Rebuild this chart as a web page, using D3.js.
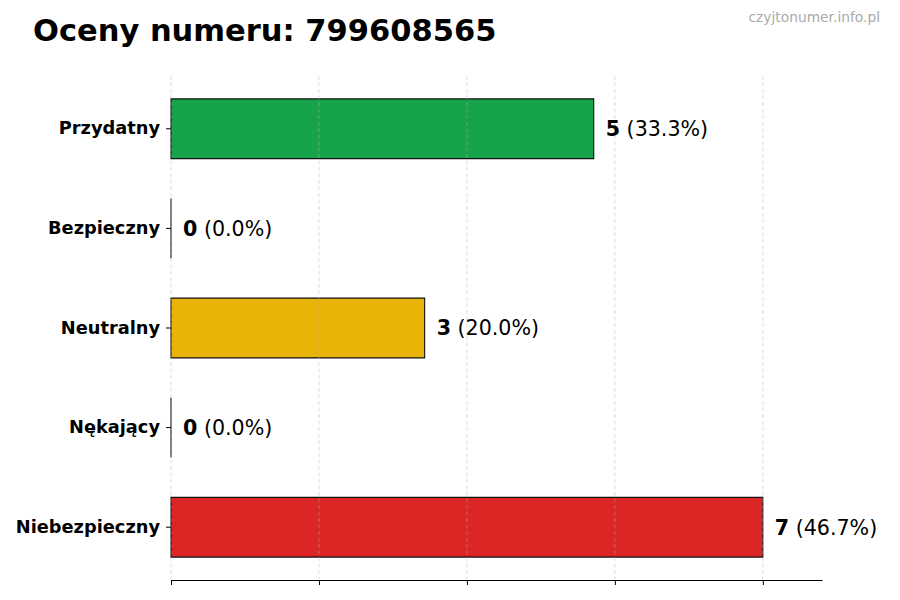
<!DOCTYPE html>
<html lang="pl">
<head>
<meta charset="UTF-8">
<title>Oceny numeru</title>
<style>
  body { margin: 0; background: #fff; }
  svg { display: block; font-family: "DejaVu Sans", sans-serif; }
</style>
<script src="https://cdn.jsdelivr.net/npm/d3@7/dist/d3.min.js"></script>
</head>
<body>
<script>
// dane z wykresu
var categories = ['Przydatny', 'Bezpieczny', 'Neutralny', 'Nękający', 'Niebezpieczny'];
var counts = [5, 0, 3, 0, 7];
var percents = ['33.3%', '0.0%', '20.0%', '0.0%', '46.7%'];
var colors = ['#16a34a', '#9ca3af', '#eab308', '#f97316', '#dc2626'];
var xTicks = [0, 1.75, 3.5, 5.25, 7];
var xMax = 7.7;

var width = 900, height = 600;
var margin = {top: 76, right: 78, bottom: 20, left: 171};

var svg = d3.select('body').append('svg')
  .attr('width', width)
  .attr('height', height);

var x = d3.scaleLinear()
  .domain([0, xMax])
  .range([margin.left, width - margin.right]);

var y = d3.scaleBand()
  .domain(categories)
  .range([margin.top, height - margin.bottom])
  .paddingInner(0.4)
  .paddingOuter(0.23);

// tytul
svg.append('text')
  .attr('x', 33).attr('y', 41)
  .attr('font-size', '30.5px')
  .attr('font-weight', 'bold')
  .attr('fill', '#000')
  .text('Oceny numeru: 799608565');

// znak wodny
svg.append('text')
  .attr('x', 880).attr('y', 22)
  .attr('text-anchor', 'end')
  .attr('font-size', '13.8px')
  .attr('fill', '#aaaaaa')
  .text('czyjtonumer.info.pl');

// slupki (path, zeby zerowe tez mialy krawedz)
svg.append('g').selectAll('path')
  .data(counts)
  .enter().append('path')
  .attr('d', function(d, i) {
    var y0 = y(categories[i]), y1 = y0 + y.bandwidth();
    return 'M' + x(0) + ',' + y0 + 'H' + x(d) + 'V' + y1 + 'H' + x(0) + 'Z';
  })
  .attr('fill', function(d, i) { return colors[i]; })
  .attr('stroke', '#111')
  .attr('stroke-width', 1.1);

// siatka
svg.append('g').selectAll('line')
  .data(xTicks)
  .enter().append('line')
  .attr('x1', function(d) { return x(d); })
  .attr('x2', function(d) { return x(d); })
  .attr('y1', margin.top)
  .attr('y2', height - margin.bottom)
  .attr('stroke', '#b0b0b0')
  .attr('stroke-opacity', 0.55)
  .attr('stroke-width', 0.8)
  .attr('stroke-dasharray', '4,2.5');

// os Y
var yAxis = svg.append('g')
  .attr('transform', 'translate(' + margin.left + ',0)')
  .call(d3.axisLeft(y).tickSize(5).tickPadding(6));
yAxis.select('.domain').remove();
yAxis.selectAll('text')
  .attr('font-size', '17.8px')
  .attr('font-weight', 'bold')
  .attr('fill', '#000')
  .attr('font-family', '"DejaVu Sans", sans-serif');

// os X
var xAxis = svg.append('g')
  .attr('transform', 'translate(0,' + (height - margin.bottom) + ')')
  .call(d3.axisBottom(x).tickValues(xTicks).tickFormat('').tickSize(5).tickSizeOuter(0));
xAxis.select('.domain').attr('stroke', '#000').attr('stroke-width', 1.1);
xAxis.selectAll('.tick line').attr('stroke', '#000');

// etykiety wartosci
var labels = svg.append('g').selectAll('text')
  .data(counts)
  .enter().append('text')
  .attr('x', function(d) { return x(d) + 12; })
  .attr('y', function(d, i) { return y(categories[i]) + y.bandwidth() / 2; })
  .attr('dy', '0.36em')
  .attr('font-size', '20.6px')
  .attr('fill', '#000');
labels.append('tspan')
  .attr('font-weight', 'bold')
  .text(function(d) { return d; });
labels.append('tspan')
  .text(function(d, i) { return ' (' + percents[i] + ')'; });
</script>
</body>
</html>
